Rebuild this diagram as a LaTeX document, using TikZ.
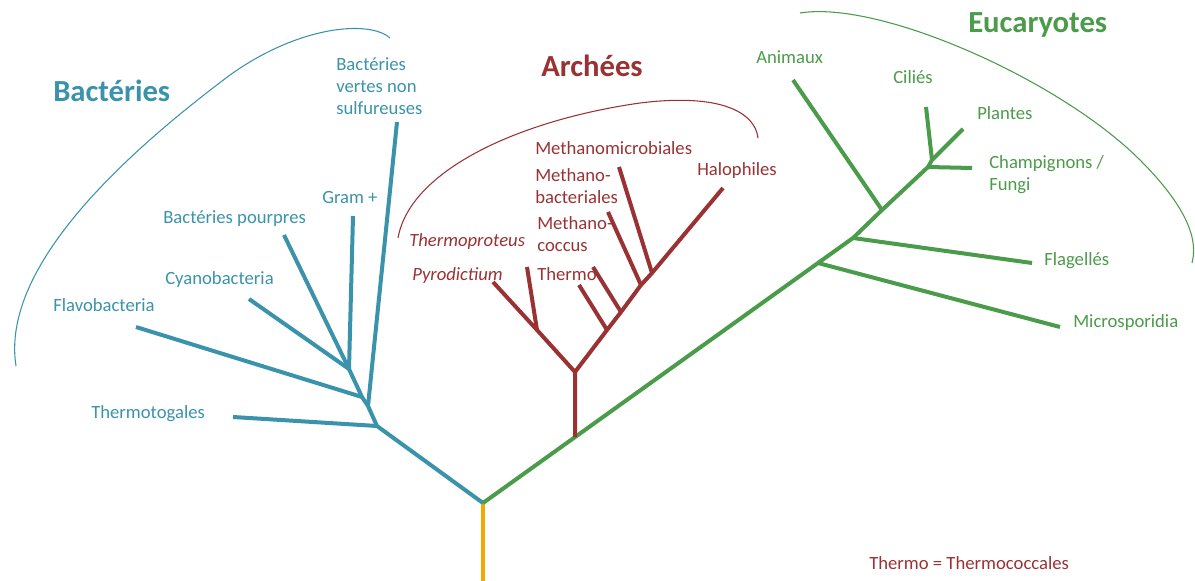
\documentclass[tikz,border=0pt]{standalone}
\usepackage{fontspec}
\setmainfont{Carlito}
\definecolor{bact}{HTML}{3A93AB}
\definecolor{arch}{HTML}{9A3234}
\definecolor{euk}{HTML}{4A9B4A}
\definecolor{root}{HTML}{F2AA00}
\begin{document}
\begin{tikzpicture}[x=0.75pt,y=-0.75pt,
  br/.style={line width=3pt},
  arcline/.style={line width=0.8pt},
  lab/.style={inner sep=0pt,anchor=west,font=\fontsize{14}{16.5}\selectfont,align=left},
  ilab/.style={lab,font=\fontsize{14}{16.5}\selectfont\itshape},
  head/.style={inner sep=0pt,anchor=west,font=\fontsize{23}{26}\selectfont\bfseries}]
\useasboundingbox (0,0) rectangle (1195,581);
% ---------- junctions ----------
\coordinate (r0) at (483,581);
\coordinate (r1) at (483,503);
% bacteria
\coordinate (b1) at (377,426);
\coordinate (b2) at (368,406);
\coordinate (b3) at (362,397);
\coordinate (b4) at (349,369);
\coordinate (bThermotogales) at (233,417);
\coordinate (bVertes) at (397,122);
\coordinate (bFlavo) at (136,327);
\coordinate (bGram) at (353,216);
\coordinate (bCyano) at (249,299);
\coordinate (bPourpres) at (284,235);
% archaea
\coordinate (a0) at (575,437);
\coordinate (a1) at (575,372);
\coordinate (a2) at (537,330);
\coordinate (aPyro) at (493,282);
\coordinate (aThermoproteus) at (527,267);
\coordinate (a3) at (607,330);
\coordinate (a4) at (621,312);
\coordinate (a5) at (641,285);
\coordinate (a6) at (652,273);
\coordinate (aThermo) at (579,285);
\coordinate (aCoccus) at (593,267);
\coordinate (aBact) at (608,212);
\coordinate (aMicro) at (619,167);
\coordinate (aHalo) at (723,188);
% eukaryotes
\coordinate (e1) at (818,263);
\coordinate (e2) at (853,238);
\coordinate (e3) at (882,210);
\coordinate (e4) at (928,167);
\coordinate (e5) at (932,160);
\coordinate (eMicro) at (1060,327);
\coordinate (eFlag) at (1032,263);
\coordinate (eAnim) at (793,80);
\coordinate (eChamp) at (972,168);
\coordinate (eCilie) at (926,107);
\coordinate (ePlant) at (963,129);
% ---------- branches ----------
\draw[root,line width=2.5pt] (r0) -- (r1);
\begin{scope}[bact,br]
\draw (r1) -- (b1) -- (b2) -- (b3) -- (b4);
\draw (b1) -- (bThermotogales);
\draw (b2) -- (bVertes);
\draw (b3) -- (bFlavo);
\draw (b4) -- (bGram);
\draw (b4) -- (bCyano);
\draw (b4) -- (bPourpres);
\end{scope}
\begin{scope}[euk,br]
\draw (r1) -- (e1) -- (e2) -- (e3) -- (e4) -- (e5) -- (ePlant);
\draw (e1) -- (eMicro);
\draw (e2) -- (eFlag);
\draw (e3) -- (eAnim);
\draw (e4) -- (eChamp);
\draw (e5) -- (eCilie);
\end{scope}
\begin{scope}[arch,br]
\draw (a0) -- (a1) -- (a2) -- (aPyro);
\draw (a2) -- (aThermoproteus);
\draw (a1) -- (a3) -- (a4) -- (a5) -- (a6) -- (aHalo);
\draw (a3) -- (aThermo);
\draw (a4) -- (aCoccus);
\draw (a5) -- (aBact);
\draw (a6) -- (aMicro);
\end{scope}
% ---------- arcs ----------
\coordinate (bs) at (390,38);
\coordinate (bm) at (230,75);
\coordinate (be) at (16,366);
\draw[bact,arcline] (bs) .. controls (370,20) and (300,25) .. (bm) .. controls (130,150) and (0,265) .. (be);
\coordinate (as) at (398,238);
\coordinate (am) at (640,103);
\coordinate (ae) at (758,138);
\draw[arch,arcline] (as) .. controls (410,170) and (520,120) .. (am) .. controls (720,93) and (755,112) .. (ae);
\coordinate (es) at (800,13);
\coordinate (em) at (1140,160);
\coordinate (ee) at (1192,263);
\draw[euk,arcline] (es) .. controls (880,0) and (1060,80) .. (em) .. controls (1200,220) and (1195,250) .. (ee);
% ---------- labels ----------
\node[head,bact] (hB) at (53,91) {Bactéries};
\node[head,arch] (hA) at (541,66) {Archées};
\node[head,euk] (hE) at (968,25) {Eucaryotes};
\begin{scope}[bact]
\node[lab] (lVertes) at (336,86) {Bactéries\\vertes non\\sulfureuses};
\node[lab] (lGram) at (322,198) {Gram +};
\node[lab] (lPourpres) at (163,219) {Bactéries pourpres};
\node[lab] (lCyano) at (165,280) {Cyanobacteria};
\node[lab] (lFlavo) at (53,305) {Flavobacteria};
\node[lab] (lThermotogales) at (91,414) {Thermotogales};
\end{scope}
\begin{scope}[arch]
\node[lab] (lMicro) at (535,148) {Methanomicrobiales};
\node[lab] (lBact) at (535,186) {Methano-\\bacteriales};
\node[lab] (lCoccus) at (537,234) {Methano-\\coccus};
\node[ilab] (lThermoproteus) at (409,242) {Thermoproteus};
\node[ilab] (lPyro) at (412,276) {Pyrodictium};
\node[lab] (lThermo) at (537,274) {Thermo};
\node[lab] (lHalo) at (697,171) {Halophiles};
\node[lab] (lNote) at (869,563) {Thermo = Thermococcales};
\end{scope}
\begin{scope}[euk]
\node[lab] (lAnim) at (756,57) {Animaux};
\node[lab] (lCilie) at (893,77) {Ciliés};
\node[lab] (lPlant) at (977,113) {Plantes};
\node[lab] (lChamp) at (989,175) {Champignons /\\Fungi};
\node[lab] (lFlag) at (1044,261) {Flagellés};
\node[lab] (lMicrosp) at (1073,323) {Microsporidia};
\end{scope}
\end{tikzpicture}
\end{document}
